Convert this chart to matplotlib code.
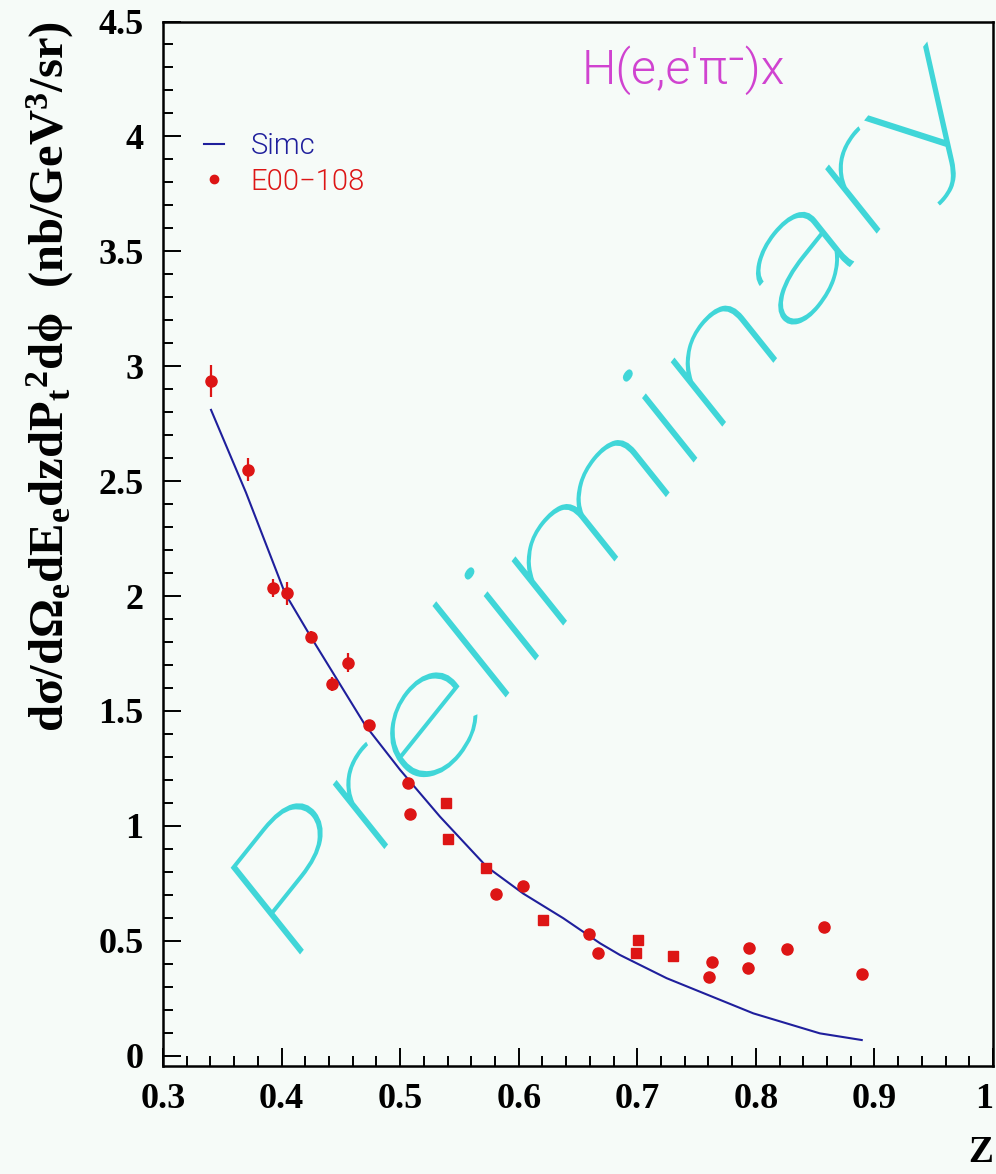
import matplotlib
matplotlib.use('Agg')
import matplotlib.pyplot as plt
from matplotlib import font_manager as fm
from matplotlib.lines import Line2D
from matplotlib.patches import PathPatch
from matplotlib.textpath import TextPath
from matplotlib.font_manager import FontProperties
from matplotlib.transforms import Affine2D

# ---- values ----
simc_z = [0.3405, 0.37, 0.4029, 0.4246, 0.4704, 0.4999, 0.5336, 0.573,
          0.6039, 0.6376, 0.6686, 0.6854, 0.7248, 0.7979, 0.854, 0.8893]
simc_y = [2.810, 2.45, 2.012, 1.823, 1.439, 1.244, 1.040, 0.822,
          0.705, 0.598, 0.489, 0.438, 0.337, 0.184, 0.097, 0.068]

# E00-108, round markers
circ_z = [0.3405, 0.372, 0.3925, 0.4043, 0.4246, 0.4423, 0.4563, 0.4737,
          0.5069, 0.5083, 0.5806, 0.6039, 0.6595, 0.667, 0.7607, 0.7626,
          0.7937, 0.7945, 0.826, 0.8575, 0.8895]
circ_y = [2.937, 2.549, 2.034, 2.012, 1.823, 1.618, 1.710, 1.439,
          1.185, 1.052, 0.704, 0.739, 0.530, 0.446, 0.344, 0.409,
          0.380, 0.467, 0.463, 0.558, 0.356]
circ_err = [0.07, 0.05, 0.04, 0.05, 0.025, 0.03, 0.04, 0.02,
            0.02, 0.02, 0.015, 0.015, 0.015, 0.015, 0.015, 0.02,
            0.02, 0.015, 0.02, 0.015, 0.015]

# E00-108, square markers
sq_z = [0.5387, 0.5406, 0.5724, 0.6207, 0.6989, 0.7003, 0.7304]
sq_y = [1.101, 0.942, 0.818, 0.590, 0.448, 0.503, 0.434]

x_ticks = [0.3, 0.4, 0.5, 0.6, 0.7, 0.8, 0.9, 1.0]
x_ticklabels = ['0.3', '0.4', '0.5', '0.6', '0.7', '0.8', '0.9', '1']
y_ticks = [0, 0.5, 1, 1.5, 2, 2.5, 3, 3.5, 4, 4.5]
y_ticklabels = ['0', '0.5', '1', '1.5', '2', '2.5', '3', '3.5', '4', '4.5']

BG = '#f6fbf8'
BLUE = '#1f1f9c'
RED = '#dd1515'
CYAN = '#40d6d8'
MAGENTA = '#d043d0'


def find_weights():
    # thin / light weights of a plain sans family, to mimic ROOT's stroke font
    for fam in ['Roboto', 'Open Sans', 'Lato', 'Noto Sans', 'Inter', 'DejaVu Sans']:
        found = []
        for f in fm.fontManager.ttflist:
            if f.name != fam or f.style != 'normal' or f.stretch != 'normal':
                continue
            w = f.weight
            if isinstance(w, str):
                w = fm.weight_dict.get(w, 400)
            if 100 <= w <= 300:
                found.append(w)
        if found:
            return fam, min(found), max(found)
    return 'DejaVu Sans', 'light', 'light'


thin_fam, thin_w, light_w = find_weights()

plt.rcParams['mathtext.fontset'] = 'custom'
plt.rcParams['mathtext.rm'] = 'Liberation Serif:bold'
plt.rcParams['mathtext.it'] = 'Liberation Serif:bold'
plt.rcParams['mathtext.bf'] = 'Liberation Serif:bold'

fig = plt.figure(figsize=(9.96, 11.74), dpi=100, facecolor=BG)
ax = fig.add_axes([163 / 996, 108 / 1174, 830 / 996, 1044.5 / 1174])
ax.set_facecolor(BG)

# "Preliminary" watermark: rotated 45 deg, then stretched vertically like the picture
prelim = TextPath((0, 0), 'Preliminary', size=138,
                  prop=FontProperties(family=[thin_fam, 'DejaVu Sans'], weight=thin_w))
ext = prelim.get_extents()
sx = 960 / ext.width
tr = Affine2D().scale(sx, 1).rotate_deg(45).scale(1, 1.25).translate(286, 202)
ax.add_patch(PathPatch(prelim, transform=tr, facecolor=CYAN, edgecolor='none',
                       zorder=1))

ax.plot(simc_z, simc_y, color=BLUE, lw=1.5, zorder=3)
ax.errorbar(circ_z, circ_y, yerr=circ_err, fmt='o', color=RED, ms=8,
            elinewidth=1.6, capsize=0, zorder=4)
ax.plot(sq_z, sq_y, 's', color=RED, ms=7.5, ls='none', zorder=4)

ax.set_xlim(0.3, 1.0)
ax.set_ylim(-0.045, 4.5)
ax.set_xticks(x_ticks)
ax.set_xticklabels(x_ticklabels)
ax.set_yticks(y_ticks)
ax.set_yticklabels(y_ticklabels)
ax.set_xticks([0.3 + 0.02 * i for i in range(36)], minor=True)
ax.set_yticks([0.1 * i for i in range(46)], minor=True)

for lab in ax.get_xticklabels() + ax.get_yticklabels():
    lab.set_fontfamily('Liberation Serif')
    lab.set_fontweight('bold')
    lab.set_fontsize(26)
ax.get_xticklabels()[-1].set_horizontalalignment('right')

ax.tick_params(which='both', direction='in', top=False, right=False, width=1.4)
ax.tick_params(which='major', length=13)
ax.tick_params(which='minor', length=7)
ax.tick_params(axis='x', pad=12)
ax.tick_params(axis='y', pad=14)
for sp in ax.spines.values():
    sp.set_linewidth(1.8)

ax.set_xlabel('Z', loc='right', fontfamily='Liberation Serif', fontweight='bold',
              fontsize=27, labelpad=14)
ax.set_ylabel(r'd$\sigma$/d$\Omega_{e}$dE$_{e}$dzdP$_{t}$$^{2}$d$\phi$  (nb/GeV$^{3}$/sr)',
              loc='top', fontfamily='Liberation Serif', fontweight='bold',
              fontsize=35, labelpad=16)

fig.text(582 / 996, 1 - 70 / 1174, "H(e,e'π⁻)x", color=MAGENTA,
         fontfamily=[thin_fam, 'DejaVu Sans'], fontweight=light_w, fontsize=35,
         ha='left', va='center')

handles = [Line2D([], [], color=BLUE, lw=1.5),
           Line2D([], [], marker='o', color=RED, ls='none', ms=6)]
leg = ax.legend(handles, ['Simc', 'E00−108'], loc='upper left',
                bbox_to_anchor=(0.035, 0.905), frameon=False,
                handlelength=0.7, handletextpad=0.9, labelspacing=0.25,
                borderaxespad=0, labelcolor=[BLUE, RED],
                prop=FontProperties(family=[thin_fam, 'DejaVu Sans'],
                                    weight=light_w, size=21))

fig.savefig('out.png', dpi=100, facecolor=BG)
